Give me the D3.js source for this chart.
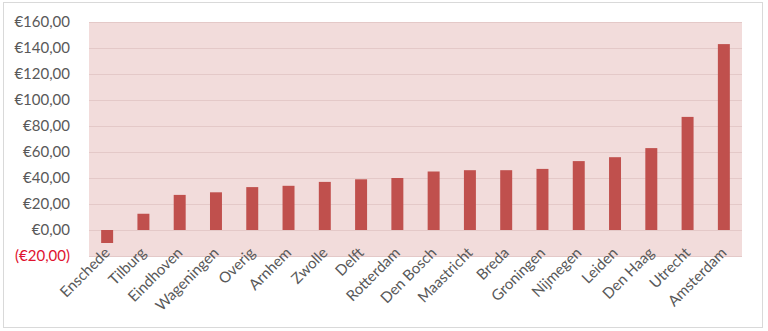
<!DOCTYPE html>
<html><head><meta charset="utf-8">
<script src="https://cdn.jsdelivr.net/npm/d3@7"></script>
<style>body{margin:0;background:#fff}svg{display:block}</style>
</head><body>
<script>
const categories = ["Enschede","Tilburg","Eindhoven","Wageningen","Overig","Arnhem","Zwolle","Delft","Rotterdam","Den Bosch","Maastricht","Breda","Groningen","Nijmegen","Leiden","Den Haag","Utrecht","Amsterdam"];
const values = [-10, 12.5, 27, 29, 33, 34, 37, 39, 40, 45, 46, 46, 47, 53, 56, 63, 87, 143];
const yTicks = [-20, 0, 20, 40, 60, 80, 100, 120, 140, 160];

const W = 768, H = 331;
const m = {left: 89, right: 26, top: 22, bottom: 75};
const svg = d3.select("body").append("svg").attr("width", W).attr("height", H);
svg.append("rect").attr("x", 3.5).attr("y", 2.5).attr("width", 759).attr("height", 325)
  .attr("fill", "#fff").attr("stroke", "#d9d9d9");

const x = d3.scaleBand().domain(categories).range([m.left, W - m.right]).paddingInner(0.67).paddingOuter(0.335);
const y = d3.scaleLinear().domain([-20, 160]).range([H - m.bottom, m.top]);

svg.append("rect").attr("x", m.left).attr("y", m.top).attr("width", W - m.right - m.left)
  .attr("height", H - m.bottom - m.top).attr("fill", "#f2dcdb");

const g = svg.append("g");
g.selectAll("line.grid").data(yTicks).join("line")
  .attr("x1", m.left).attr("x2", W - m.right)
  .attr("y1", d => Math.round(y(d)) + 0.5).attr("y2", d => Math.round(y(d)) + 0.5)
  .attr("stroke", "#e4c9c8").attr("stroke-width", 1);

g.selectAll("rect.bar").data(values).join("rect")
  .attr("x", (d, i) => x(categories[i]))
  .attr("width", x.bandwidth())
  .attr("y", d => y(Math.max(0, d)))
  .attr("height", d => Math.abs(y(d) - y(0)))
  .attr("fill", "#c0504d");

const fmt = v => {
  const s = "€" + Math.abs(v).toFixed(2).replace(".", ",");
  return v < 0 ? "(" + s + ")" : s;
};
svg.selectAll("text.yt").data(yTicks).join("text")
  .attr("x", 70).attr("y", d => y(d)).attr("dy", "0.35em")
  .attr("text-anchor", "end")
  .attr("font-family", "Lato, 'Open Sans', sans-serif").attr("font-size", 15)
  .attr("fill", d => d < 0 ? "#e0132f" : "#595959")
  .text(fmt);

svg.selectAll("text.xt").data(categories).join("text")
  .attr("transform", d => `translate(${x(d) + x.bandwidth()/2},${H - m.bottom - 6}) rotate(-45)`)
  .attr("text-anchor", "end").attr("dy", "0.35em")
  .attr("font-family", "Lato, 'Open Sans', sans-serif").attr("font-size", 15)
  .attr("fill", "#595959")
  .text(d => d);
</script>
</body></html>
